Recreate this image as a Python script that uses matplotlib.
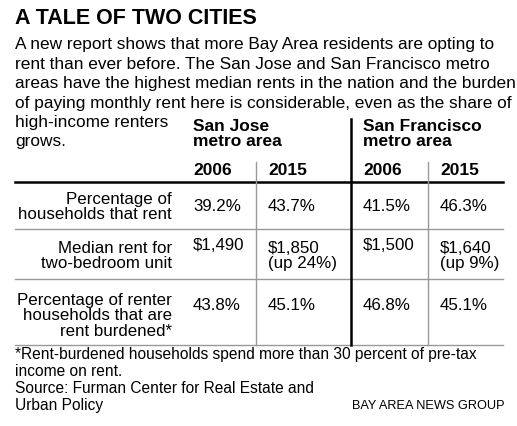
import matplotlib
matplotlib.use("Agg")
import matplotlib.pyplot as plt
from matplotlib.lines import Line2D

W, H = 517, 427

title = "A TALE OF TWO CITIES"
intro = [
    "A new report shows that more Bay Area residents are opting to",
    "rent than ever before. The San Jose and San Francisco metro",
    "areas have the highest median rents in the nation and the burden",
    "of paying monthly rent here is considerable, even as the share of",
    "high-income renters",
    "grows.",
]
cities = ["San Jose\nmetro area", "San Francisco\nmetro area"]
years = ["2006", "2015", "2006", "2015"]
row_labels = [
    "Percentage of\nhouseholds that rent",
    "Median rent for\ntwo-bedroom unit",
    "Percentage of renter\nhouseholds that are\nrent burdened*",
]
cells = [
    ["39.2%", "43.7%", "41.5%", "46.3%"],
    ["$1,490", "$1,850\n(up 24%)", "$1,500", "$1,640\n(up 9%)"],
    ["43.8%", "45.1%", "46.8%", "45.1%"],
]
footnote = ["*Rent-burdened households spend more than 30 percent of pre-tax",
            "income on rent."]
source = ["Source: Furman Center for Real Estate and", "Urban Policy"]
credit = "BAY AREA NEWS GROUP"

plt.rcParams["font.family"] = ["Liberation Sans", "DejaVu Sans"]
fig = plt.figure(figsize=(W / 100, H / 100), dpi=100)
fig.patch.set_facecolor("white")


def T(x, y, s, **kw):
    kw.setdefault("va", "center")
    kw.setdefault("fontsize", 10.5)
    fig.text(x / W, 1 - y / H, s, **kw)


def L(x0, x1, y0, y1, lw=1.0, c="#999999"):
    fig.add_artist(Line2D([x0 / W, x1 / W], [1 - y0 / H, 1 - y1 / H],
                          lw=lw, color=c, transform=fig.transFigure))


T(15, 19, title, fontsize=15.5, fontweight="bold")
for i, line in enumerate(intro):
    T(15, 45 + i * 19.4, line, fontsize=12.4)

col_x = [193, 268, 363, 440]
for j, c in enumerate(cities):
    T(col_x[2 * j], 134, c, fontweight="bold", fontsize=12.5, linespacing=0.95)
for j, y in enumerate(years):
    T(col_x[j], 171, y, fontweight="bold", fontsize=12.5)

row_y = [207, 256, 306]
for i, lab in enumerate(row_labels):
    T(172, row_y[i] + (10 if i == 2 else 0), lab, ha="right", fontsize=12.2, linespacing=1.02)
    for j, v in enumerate(cells[i]):
        yy = row_y[i] if "\n" in v or i != 1 else row_y[i] - 10
        T(col_x[j], yy, v, fontsize=12.2, linespacing=1.02)

L(15, 503, 183, 183, lw=1.8, c="black")
L(15, 503, 230, 230)
L(15, 503, 280, 280)
L(15, 503, 346, 346)
L(256, 256, 163, 346)
L(428, 428, 163, 346)
L(351, 351, 120, 346, lw=1.8, c="black")

for i, line in enumerate(footnote):
    T(15, 355 + i * 17, line, fontsize=11.2)
for i, line in enumerate(source):
    T(15, 389 + i * 17, line, fontsize=11.2)
T(504, 406, credit, ha="right", fontsize=9.2)

fig.savefig("out.png", dpi=100)
